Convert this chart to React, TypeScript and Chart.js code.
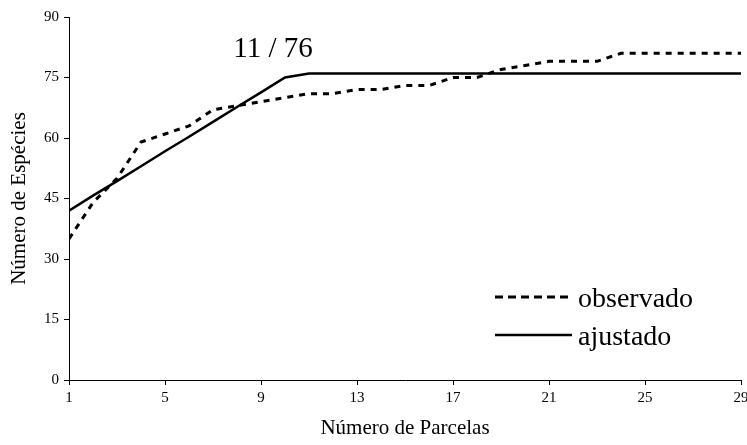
import React, { useEffect, useRef } from "react";
import { Chart, registerables } from "chart.js";

Chart.register(...registerables);

const parcelas = [1, 2, 3, 4, 5, 6, 7, 8, 9, 10, 11, 12, 13, 14, 15, 16, 17, 18, 19, 20, 21, 22, 23, 24, 25, 26, 27, 28, 29];
const observado = [35, 44, 50, 59, 61, 63, 67, 68, 69, 70, 71, 71, 72, 72, 73, 73, 75, 75, 77, 78, 79, 79, 79, 81, 81, 81, 81, 81, 81];
const ajustado = [42, 45.7, 49.3, 53, 56.7, 60.3, 64, 67.7, 71.3, 75, 76, 76, 76, 76, 76, 76, 76, 76, 76, 76, 76, 76, 76, 76, 76, 76, 76, 76, 76];
const xTicks = [1, 5, 9, 13, 17, 21, 25, 29];
const yTicks = [0, 15, 30, 45, 60, 75, 90];
const annotationText = "11 / 76";
const legendLabels = ["observado", "ajustado"];
const xTitle = "Número de Parcelas";
const yTitle = "Número de Espécies";

const FONT = "'Liberation Serif', 'Times New Roman', serif";

export default function App() {
  const ref = useRef<HTMLCanvasElement | null>(null);
  useEffect(() => {
    if (!ref.current) return;
    const overlay = {
      id: "overlay",
      afterDraw(chart: any) {
        const ctx = chart.ctx;
        ctx.save();
        ctx.fillStyle = "#000";
        ctx.strokeStyle = "#000";
        ctx.font = `29px ${FONT}`;
        ctx.textAlign = "center";
        ctx.textBaseline = "alphabetic";
        ctx.fillText(annotationText, 273, 57);
        ctx.lineWidth = 3;
        ctx.setLineDash([8, 5]);
        ctx.beginPath();
        ctx.moveTo(495, 297);
        ctx.lineTo(572, 297);
        ctx.stroke();
        ctx.setLineDash([]);
        ctx.lineWidth = 2.5;
        ctx.beginPath();
        ctx.moveTo(495, 335);
        ctx.lineTo(572, 335);
        ctx.stroke();
        ctx.font = `28px ${FONT}`;
        ctx.textAlign = "left";
        ctx.fillText(legendLabels[0], 578, 307);
        ctx.fillText(legendLabels[1], 578, 345);
        ctx.restore();
      },
    };
    const chart = new Chart(ref.current, {
      type: "line",
      data: {
        datasets: [
          {
            label: legendLabels[0],
            data: parcelas.map((p, i) => ({ x: p, y: observado[i] })),
            borderColor: "#000",
            borderWidth: 3,
            borderDash: [6, 6],
            pointRadius: 0,
            tension: 0,
            fill: false,
          },
          {
            label: legendLabels[1],
            data: parcelas.map((p, i) => ({ x: p, y: ajustado[i] })),
            borderColor: "#000",
            borderWidth: 2.5,
            pointRadius: 0,
            tension: 0,
            fill: false,
          },
        ],
      },
      options: {
        responsive: false,
        animation: false,
        layout: { padding: { left: 0, top: 17, right: 6, bottom: 0 } },
        plugins: { legend: { display: false }, tooltip: { enabled: false } },
        scales: {
          x: {
            type: "linear",
            min: 1,
            max: 29,
            afterBuildTicks: (s: any) => {
              s.ticks = xTicks.map((v) => ({ value: v }));
            },
            afterFit: (s: any) => {
              s.height = 65;
              s.paddingLeft = 0;
              s.paddingRight = 0;
            },
            ticks: {
              color: "#000",
              font: { family: FONT, size: 15 },
              padding: 4,
              maxRotation: 0,
              autoSkip: false,
            },
            grid: { display: true, drawOnChartArea: false, tickLength: 5, color: "#000" },
            border: { color: "#000", width: 1 },
            title: {
              display: true,
              text: xTitle,
              color: "#000",
              font: { family: FONT, size: 21 },
              padding: { top: 0, bottom: 4 },
            },
          },
          y: {
            min: 0,
            max: 90,
            afterBuildTicks: (s: any) => {
              s.ticks = yTicks.map((v) => ({ value: v }));
            },
            afterFit: (s: any) => {
              s.width = 69;
              s.paddingTop = 0;
              s.paddingBottom = 0;
            },
            ticks: {
              color: "#000",
              font: { family: FONT, size: 15 },
              padding: 5,
              autoSkip: false,
            },
            grid: { display: true, drawOnChartArea: false, tickLength: 5, color: "#000" },
            border: { color: "#000", width: 1 },
            title: {
              display: true,
              text: yTitle,
              color: "#000",
              font: { family: FONT, size: 21 },
              padding: { top: 7, bottom: 0 },
            },
          },
        },
      },
      plugins: [overlay],
    } as any);
    return () => chart.destroy();
  }, []);
  return (
    <div style={{ position: "absolute", left: 0, top: 0, width: 747, height: 445, background: "#fff" }}>
      <canvas ref={ref} width={747} height={445} style={{ display: "block" }} />
    </div>
  );
}
